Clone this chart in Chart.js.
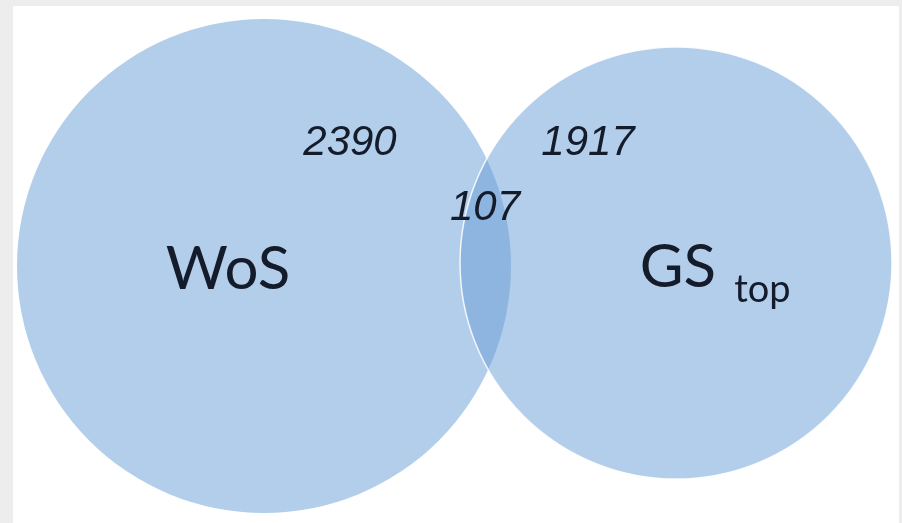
<!DOCTYPE html>
<html>
<head>
<meta charset="utf-8">
<script src="https://cdn.jsdelivr.net/npm/chart.js@4.4.1/dist/chart.umd.min.js"></script>
<style>
  html, body { margin: 0; padding: 0; }
  body { width: 902px; height: 523px; background: #ededed; position: relative; overflow: hidden; }
  .panel { position: absolute; left: 13px; top: 6px; right: 3px; bottom: 0; background: #ffffff; }
  .chart-wrap { position: absolute; left: 0; top: 0; width: 902px; height: 523px; }
</style>
</head>
<body>
<div class="panel"></div>
<div class="chart-wrap"><canvas id="chart" width="902" height="523"></canvas></div>
<script>
// Venn data: two sets and their overlap
const setNames = ['WoS', 'GS'];
const setSubscripts = ['', 'top'];
const onlyCounts = [2390, 1917];
const sharedCount = 107;

// circle centres / radii in plot units
const circleX = [264, 676];
const circleY = [266, 263];
const circleR = [247, 216];

const fillColor = 'rgba(104, 158, 214, 0.5)';

// where the texts sit (plot units)
const nameAt = [[228, 270], [711, 268]];
const countAt = [[350, 143], [588, 143]];
const sharedAt = [485, 208];

function radiusPx(ctx) {
    const sx = ctx.chart.scales.x;
    const r = circleR[ctx.dataIndex];
    return Math.abs(sx.getPixelForValue(r) - sx.getPixelForValue(0));
}

const vennLabels = {
    id: 'vennLabels',
    afterDatasetsDraw(chart) {
        const { ctx, scales } = chart;
        const px = v => scales.x.getPixelForValue(v);
        const py = v => scales.y.getPixelForValue(v);

        ctx.save();
        ctx.fillStyle = '#141b2b';
        ctx.textBaseline = 'middle';

        // set names
        setNames.forEach((name, i) => {
            const [x, y] = nameAt[i];
            ctx.font = '60px Lato';
            const w = ctx.measureText(name).width;
            let subW = 0;
            if (setSubscripts[i]) {
                ctx.font = '38px Lato';
                subW = ctx.measureText(' ' + setSubscripts[i]).width;
            }
            const left = px(x) - (w + subW) / 2;
            ctx.font = '60px Lato';
            ctx.textAlign = 'left';
            ctx.fillText(name, left, py(y));
            if (setSubscripts[i]) {
                ctx.font = '38px Lato';
                ctx.fillText(setSubscripts[i], left + w + 18, py(y) + 22);
            }
        });

        // counts
        ctx.font = 'italic 42px "Liberation Sans"';
        ctx.textAlign = 'center';
        onlyCounts.forEach((c, i) => {
            ctx.fillText(String(c), px(countAt[i][0]), py(countAt[i][1]));
        });
        ctx.fillText(String(sharedCount), px(sharedAt[0]), py(sharedAt[1]));
        ctx.restore();
    }
};

new Chart(document.getElementById('chart'), {
    type: 'scatter',
    data: {
        datasets: [{
            data: circleX.map((x, i) => ({ x: x, y: circleY[i] })),
            backgroundColor: fillColor,
            pointRadius: radiusPx,
            pointBorderWidth: ctx => ctx.dataIndex === 1 ? 1.5 : 0,
            pointBorderColor: 'rgba(255, 255, 255, 0.85)',
            clip: false
        }]
    },
    options: {
        responsive: false,
        animation: false,
        events: [],
        layout: { padding: 0 },
        scales: {
            x: { type: 'linear', min: 0, max: 902, display: false },
            y: { type: 'linear', min: 0, max: 523, reverse: true, display: false }
        },
        plugins: {
            legend: { display: false },
            tooltip: { enabled: false }
        }
    },
    plugins: [vennLabels]
});
</script>
</body>
</html>
